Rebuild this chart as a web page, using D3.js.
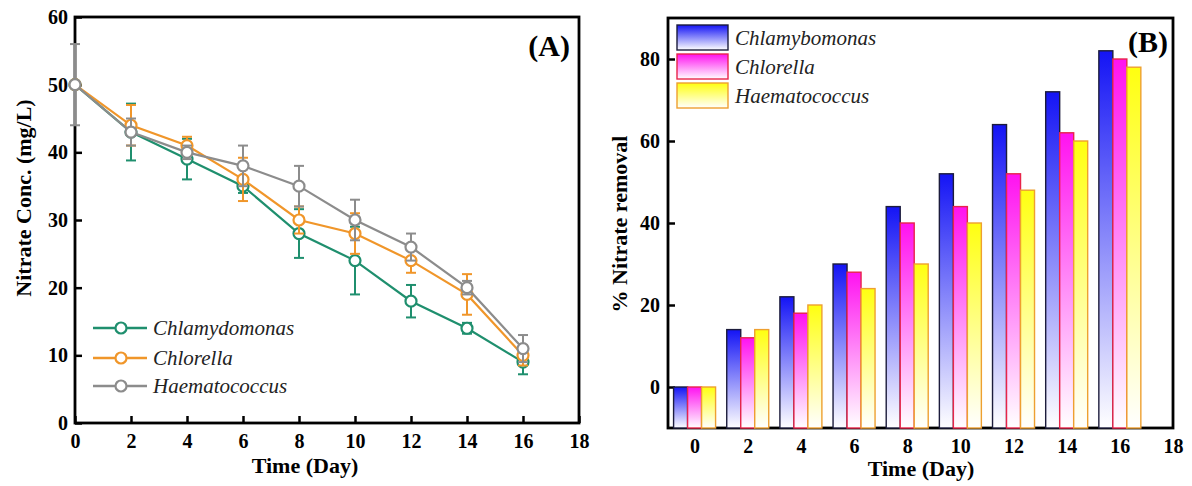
<!DOCTYPE html>
<html lang="en">
<head>
    <meta charset="UTF-8">
    <script src="https://cdn.jsdelivr.net/npm/d3@7"></script>
    <title>nitrate removal</title>
</head>
<style type="text/css">
    body{ margin:0; background:white; }
    text{ font-family:"Liberation Serif","Times New Roman",serif; }
    .tick text{ font-size:20px; font-weight:bold; fill:black; }
    .axtitle{ font-size:22px; font-weight:bold; }
    .leg{ font-size:21px; font-style:italic; fill:#222; }
    .panel{ font-size:30px; font-weight:bold; }
</style>
<body>
<div id="chart"></div>
<script>

    // time points (days)
    var days = [0, 2, 4, 6, 8, 10, 12, 14, 16];

    // nitrate concentration (mg/L) and error
    var chlamyConc = [50, 43, 39, 35, 28, 24, 18, 14, 9];
    var chlamyErr  = [0, 4.2, 3, 1, 3.6, 5, 2.4, 0.8, 1.8];
    var chlorConc  = [50, 44, 41, 36, 30, 28, 24, 19, 10];
    var chlorErr   = [0, 3, 1.3, 3.2, 2, 3, 1.8, 3, 1.5];
    var haemaConc  = [50, 43, 40, 38, 35, 30, 26, 20, 11];
    var haemaErr   = [6, 2, 1, 3, 3, 3, 2, 1, 2];

    // % nitrate removal
    var chlamyRemoval = [0, 14, 22, 30, 44, 52, 64, 72, 82];
    var chlorRemoval  = [0, 12, 18, 28, 40, 44, 52, 62, 80];
    var haemaRemoval  = [0, 14, 20, 24, 30, 40, 48, 60, 78];

    var xTicks = [0, 2, 4, 6, 8, 10, 12, 14, 16, 18];
    var concTicks = [0, 10, 20, 30, 40, 50, 60];
    var removalTicks = [0, 20, 40, 60, 80];

    var lineSeries = [
        {name: "Chlamydomonas", color: "#1f8f6e", y: chlamyConc, err: chlamyErr},
        {name: "Chlorella", color: "#f0962a", y: chlorConc, err: chlorErr},
        {name: "Haematococcus", color: "#8c8c8c", y: haemaConc, err: haemaErr}
    ];
    var barSeries = [
        {name: "Chlamybomonas", top: "#1414f5", stroke: "#1c1c3c", y: chlamyRemoval},
        {name: "Chlorella", top: "#ff12f0", stroke: "#e8244a", y: chlorRemoval},
        {name: "Haematococcus", top: "#ffff10", stroke: "#eea030", y: haemaRemoval}
    ];

    var svg = d3.select("#chart").append("svg")
        .attr("width", 1192)
        .attr("height", 486);

    // ---------- panel A ----------
    var A = {left: 75, right: 579, top: 17, bottom: 423};
    var xA = d3.scaleLinear().domain([0, 18]).range([A.left, A.right]);
    var yA = d3.scaleLinear().domain([0, 60]).range([A.bottom, A.top]);

    var gA = svg.append("g");

    gA.append("g")
        .attr("transform", "translate(0," + A.bottom + ")")
        .call(d3.axisBottom(xA).tickValues(xTicks).tickSize(-7).tickPadding(11))
        .call(g => g.select(".domain").remove())
        .selectAll("line").attr("stroke-width", 2.5);

    gA.append("g")
        .attr("transform", "translate(" + A.left + ",0)")
        .call(d3.axisLeft(yA).tickValues(concTicks).tickSize(-7).tickPadding(7))
        .call(g => g.select(".domain").remove())
        .selectAll("line").attr("stroke-width", 2.5);

    gA.append("rect")
        .attr("x", A.left).attr("y", A.top)
        .attr("width", A.right - A.left).attr("height", A.bottom - A.top)
        .attr("fill", "none").attr("stroke", "black").attr("stroke-width", 2.8);

    var line = d3.line()
        .x((d, i) => xA(days[i]))
        .y(d => yA(d));

    lineSeries.forEach(function(s) {
        var g = gA.append("g");
        g.append("path")
            .datum(s.y)
            .attr("d", line)
            .attr("fill", "none")
            .attr("stroke", s.color)
            .attr("stroke-width", 2.2);

        var eb = g.selectAll(".err")
            .data(days.map((d, i) => ({x: d, y: s.y[i], e: s.err[i]})).filter(d => d.e > 0))
            .enter().append("g")
            .attr("stroke", s.color)
            .attr("stroke-width", 2);
        eb.append("line")
            .attr("x1", d => xA(d.x)).attr("x2", d => xA(d.x))
            .attr("y1", d => yA(d.y - d.e)).attr("y2", d => yA(d.y + d.e));
        eb.append("line")
            .attr("x1", d => xA(d.x) - 5).attr("x2", d => xA(d.x) + 5)
            .attr("y1", d => yA(d.y + d.e)).attr("y2", d => yA(d.y + d.e));
        eb.append("line")
            .attr("x1", d => xA(d.x) - 5).attr("x2", d => xA(d.x) + 5)
            .attr("y1", d => yA(d.y - d.e)).attr("y2", d => yA(d.y - d.e));

        g.selectAll("circle")
            .data(s.y)
            .enter().append("circle")
            .attr("cx", (d, i) => xA(days[i]))
            .attr("cy", d => yA(d))
            .attr("r", 5.5)
            .attr("fill", "white")
            .attr("stroke", s.color)
            .attr("stroke-width", 2.2);
    });

    // legend A
    lineSeries.forEach(function(s, i) {
        var ly = [328, 358, 386][i];
        gA.append("line")
            .attr("x1", 93).attr("x2", 147).attr("y1", ly).attr("y2", ly)
            .attr("stroke", s.color).attr("stroke-width", 2.5);
        gA.append("circle")
            .attr("cx", 121).attr("cy", ly).attr("r", 5.5)
            .attr("fill", "white").attr("stroke", s.color).attr("stroke-width", 2.2);
        gA.append("text").attr("class", "leg")
            .attr("x", 153).attr("y", ly + 7).text(s.name);
    });

    gA.append("text").attr("class", "panel")
        .attr("x", 570).attr("y", 56).attr("text-anchor", "end").text("(A)");

    gA.append("text").attr("class", "axtitle")
        .attr("x", (A.left + A.right) / 2 - 22).attr("y", 473)
        .attr("text-anchor", "middle").text("Time (Day)");

    gA.append("text").attr("class", "axtitle")
        .attr("transform", "translate(31,198) rotate(-90)")
        .attr("text-anchor", "middle").text("Nitrate Conc. (mg/L)");

    // ---------- panel B ----------
    var B = {left: 668, right: 1173, top: 18, bottom: 428};
    var xB = d3.scaleLinear().domain([-1, 18]).range([B.left, B.right]);
    var yB = d3.scaleLinear().domain([-10, 90]).range([B.bottom, B.top]);
    var sub = d3.scaleBand()
        .domain(barSeries.map(s => s.name))
        .range([-0.79, 0.79]);

    var defs = svg.append("defs");
    barSeries.forEach(function(s, i) {
        var grad = defs.append("linearGradient")
            .attr("id", "grad" + i)
            .attr("x1", 0).attr("y1", 0).attr("x2", 0).attr("y2", 1);
        grad.append("stop").attr("offset", "0%").attr("stop-color", s.top);
        grad.append("stop").attr("offset", "100%").attr("stop-color", "#ffffff");
    });

    var gB = svg.append("g");

    gB.append("g")
        .attr("transform", "translate(0," + B.bottom + ")")
        .call(d3.axisBottom(xB).tickValues(xTicks).tickSize(0).tickPadding(11))
        .call(g => g.select(".domain").remove());

    gB.append("g")
        .attr("transform", "translate(" + B.left + ",0)")
        .call(d3.axisLeft(yB).tickValues(removalTicks).tickSize(-7).tickPadding(8))
        .call(g => g.select(".domain").remove())
        .selectAll("line").attr("stroke-width", 2.5);

    gB.append("rect")
        .attr("x", B.left).attr("y", B.top)
        .attr("width", B.right - B.left).attr("height", B.bottom - B.top)
        .attr("fill", "none").attr("stroke", "black").attr("stroke-width", 2.8);

    barSeries.forEach(function(s, si) {
        gB.selectAll(".bar" + si)
            .data(s.y)
            .enter().append("rect")
            .attr("x", (d, i) => xB(days[i] + sub(s.name)))
            .attr("width", xB(sub.bandwidth()) - xB(0))
            .attr("y", d => yB(d))
            .attr("height", d => yB(-10) - yB(d))
            .attr("fill", "url(#grad" + si + ")")
            .attr("stroke", s.stroke)
            .attr("stroke-width", 1.4);
    });

    // legend B
    barSeries.forEach(function(s, i) {
        var ly = [25, 54, 83][i];
        gB.append("rect")
            .attr("x", 677).attr("y", ly).attr("width", 51).attr("height", 25)
            .attr("fill", "url(#grad" + i + ")")
            .attr("stroke", s.stroke).attr("stroke-width", 1.4);
        gB.append("text").attr("class", "leg")
            .attr("x", 735).attr("y", ly + 20).text(s.name);
    });

    gB.append("text").attr("class", "panel")
        .attr("x", 1168).attr("y", 52).attr("text-anchor", "end").text("(B)");

    gB.append("text").attr("class", "axtitle")
        .attr("x", 921).attr("y", 476)
        .attr("text-anchor", "middle").text("Time (Day)");

    gB.append("text").attr("class", "axtitle")
        .attr("transform", "translate(627,224) rotate(-90)")
        .attr("text-anchor", "middle").text("% Nitrate removal");

</script>
</body>
</html>
